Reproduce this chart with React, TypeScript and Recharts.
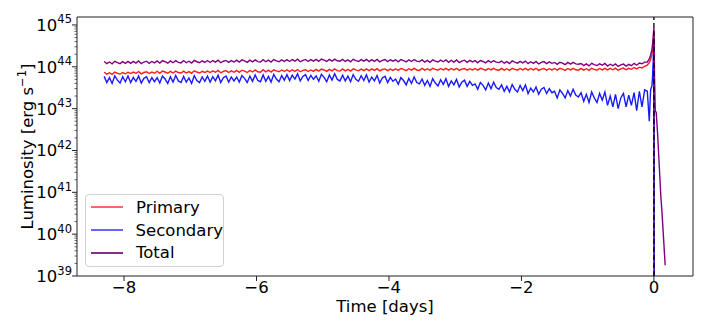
import React from 'react';
import { LineChart, Line, XAxis, YAxis, ReferenceLine, ReferenceArea, Legend } from 'recharts';

// time in days, values in units of 1e43 erg/s
const timeMain = [
  -8.30, -8.26, -8.22, -8.18, -8.14, -8.10, -8.06, -8.02, -7.98, -7.94,
  -7.90, -7.86, -7.82, -7.78, -7.74, -7.70, -7.66, -7.62, -7.58, -7.54,
  -7.50, -7.46, -7.42, -7.38, -7.34, -7.30, -7.26, -7.22, -7.18, -7.14,
  -7.10, -7.06, -7.02, -6.98, -6.94, -6.90, -6.86, -6.82, -6.78, -6.74,
  -6.70, -6.66, -6.62, -6.58, -6.54, -6.50, -6.46, -6.42, -6.38, -6.34,
  -6.30, -6.26, -6.22, -6.18, -6.14, -6.10, -6.06, -6.02, -5.98, -5.94,
  -5.90, -5.86, -5.82, -5.78, -5.74, -5.70, -5.66, -5.62, -5.58, -5.54,
  -5.50, -5.46, -5.42, -5.38, -5.34, -5.30, -5.26, -5.22, -5.18, -5.14,
  -5.10, -5.06, -5.02, -4.98, -4.94, -4.90, -4.86, -4.82, -4.78, -4.74,
  -4.70, -4.66, -4.62, -4.58, -4.54, -4.50, -4.46, -4.42, -4.38, -4.34,
  -4.30, -4.26, -4.22, -4.18, -4.14, -4.10, -4.06, -4.02, -3.98, -3.94,
  -3.90, -3.86, -3.82, -3.78, -3.74, -3.70, -3.66, -3.62, -3.58, -3.54,
  -3.50, -3.46, -3.42, -3.38, -3.34, -3.30, -3.26, -3.22, -3.18, -3.14,
  -3.10, -3.06, -3.02, -2.98, -2.94, -2.90, -2.86, -2.82, -2.78, -2.74,
  -2.70, -2.66, -2.62, -2.58, -2.54, -2.50, -2.46, -2.42, -2.38, -2.34,
  -2.30, -2.26, -2.22, -2.18, -2.14, -2.10, -2.06, -2.02, -1.98, -1.94,
  -1.90, -1.86, -1.82, -1.78, -1.74, -1.70, -1.66, -1.62, -1.58, -1.54,
  -1.50, -1.46, -1.42, -1.38, -1.34, -1.30, -1.26, -1.22, -1.18, -1.14,
  -1.10, -1.06, -1.02, -0.98, -0.94, -0.90, -0.86, -0.82, -0.78, -0.74,
  -0.70, -0.66, -0.62, -0.58, -0.54, -0.50, -0.46, -0.42, -0.38, -0.34,
  -0.30, -0.26, -0.22, -0.18, -0.14,
];
const timeTail = [-0.10, -0.07, -0.05, -0.03, -0.02, -0.01, 0.0, 0.003, 0.01, 0.02, 0.035, 0.055, 0.105, 0.12, 0.17];

const primaryMain = [
  7.4, 6.7, 7.2, 6.6, 7.5, 7.0, 6.7, 7.3, 6.8, 7.4,
  6.9, 7.5, 7.0, 7.7, 6.8, 7.3, 7.6, 6.9, 7.5, 7.0,
  7.8, 7.0, 7.9, 7.5, 7.0, 7.8, 7.1, 7.9, 7.3, 7.1,
  7.9, 7.1, 7.7, 7.0, 8.0, 7.5, 7.1, 7.8, 7.3, 7.9,
  7.3, 8.0, 7.4, 8.2, 7.2, 7.8, 8.1, 7.3, 8.0, 7.4,
  8.2, 7.4, 8.3, 7.9, 7.3, 8.2, 7.5, 8.4, 7.6, 7.4,
  8.5, 7.6, 8.3, 7.5, 8.5, 8.0, 7.6, 8.4, 7.7, 8.5,
  7.7, 8.5, 7.8, 8.6, 7.6, 8.2, 8.5, 7.7, 8.4, 7.8,
  8.7, 7.9, 8.8, 8.4, 7.8, 8.7, 8.0, 8.9, 8.1, 7.9,
  8.9, 8.0, 8.7, 7.9, 8.9, 8.4, 8.0, 8.8, 8.1, 8.9,
  8.1, 8.9, 8.2, 9.0, 8.0, 8.6, 8.9, 8.1, 8.8, 8.2,
  9.0, 8.2, 9.1, 8.7, 8.1, 9.0, 8.3, 9.2, 8.4, 8.2,
  9.2, 8.3, 9.0, 8.2, 9.2, 8.7, 8.3, 9.1, 8.4, 9.2,
  8.3, 9.1, 8.4, 9.2, 8.2, 8.8, 9.1, 8.3, 9.0, 8.4,
  9.1, 8.3, 9.2, 8.8, 8.2, 9.1, 8.4, 9.2, 8.5, 8.3,
  9.2, 8.3, 9.0, 8.2, 9.2, 8.7, 8.3, 9.1, 8.4, 9.2,
  8.3, 9.1, 8.4, 9.2, 8.2, 8.8, 9.1, 8.3, 9.0, 8.4,
  9.1, 8.3, 9.2, 8.8, 8.2, 9.1, 8.4, 9.2, 8.5, 8.3,
  9.2, 8.3, 9.0, 8.2, 9.2, 8.7, 8.3, 9.1, 8.4, 9.2,
  8.4, 9.2, 8.5, 9.3, 8.3, 8.9, 9.3, 8.5, 9.2, 8.7,
  9.6, 8.9, 9.8, 9.4, 10.3,
];
const primaryTail = [11, 12.5, 15, 20, 27, 40, 55, 0.0001, null, null, null, null, null, null, null];

const secondaryMain = [
  5.9, 4.2, 5.5, 4.0, 6.1, 4.8, 4.1, 5.8, 4.4, 6.0,
  4.2, 5.6, 4.5, 6.0, 4.1, 5.3, 5.8, 4.2, 5.5, 4.4,
  5.5, 4.1, 6.0, 5.1, 4.0, 5.8, 4.3, 6.2, 4.6, 4.2,
  5.9, 4.3, 5.4, 4.0, 6.1, 4.7, 4.2, 5.7, 4.5, 6.0,
  4.3, 5.8, 4.6, 6.3, 4.2, 5.5, 6.0, 4.3, 5.7, 4.6,
  5.7, 4.3, 6.2, 5.3, 4.2, 6.0, 4.5, 6.4, 4.7, 4.4,
  6.4, 4.5, 5.9, 4.3, 6.6, 5.1, 4.4, 6.2, 4.8, 6.5,
  4.7, 6.3, 5.1, 6.8, 4.6, 5.9, 6.5, 4.7, 6.2, 5.0,
  6.1, 4.5, 6.6, 5.6, 4.4, 6.4, 4.8, 6.8, 5.0, 4.6,
  6.3, 4.6, 6.0, 4.4, 6.5, 5.0, 4.5, 6.1, 4.7, 6.4,
  4.3, 5.7, 4.6, 6.2, 4.1, 5.4, 5.9, 4.2, 5.6, 4.5,
  5.1, 3.8, 5.5, 4.7, 3.7, 5.3, 4.0, 5.7, 4.2, 3.9,
  5.1, 3.6, 4.7, 3.4, 5.2, 4.1, 3.5, 4.9, 3.8, 5.2,
  3.4, 4.6, 3.7, 5.0, 3.3, 4.3, 4.8, 3.4, 4.5, 3.6,
  3.9, 2.9, 4.2, 3.6, 2.8, 4.1, 3.0, 4.3, 3.2, 2.9,
  3.7, 2.6, 3.4, 2.5, 3.8, 2.9, 2.5, 3.6, 2.7, 3.7,
  2.3, 3.1, 2.5, 3.3, 2.2, 2.9, 3.2, 2.3, 3.0, 2.4,
  2.6, 1.8, 2.8, 2.3, 1.8, 2.7, 2.0, 2.9, 2.1, 1.9,
  2.4, 1.5, 2.2, 1.4, 2.5, 1.8, 1.4, 2.3, 1.6, 2.5,
  1.2, 2.0, 1.1, 2.2, 1.0, 1.8, 2.3, 1.1, 2.1, 1.2,
  2.4, 0.9, 2.6, 1.1, 2.8,
];
const secondaryTail = [2.6, 0.5, 2.8, 3.5, 6, 15, 45, 0.0001, null, null, null, null, null, null, null];

const totalMain = [
  13.4, 11.9, 13.0, 11.8, 13.5, 12.6, 11.9, 13.3, 12.1, 13.4,
  12.1, 13.5, 12.3, 13.8, 11.9, 13.0, 13.6, 12.1, 13.4, 12.4,
  13.8, 12.3, 14.0, 13.2, 12.2, 13.8, 12.5, 14.0, 12.7, 12.4,
  14.1, 12.5, 13.6, 12.3, 14.2, 13.2, 12.5, 13.9, 12.7, 14.1,
  12.7, 14.1, 12.9, 14.4, 12.5, 13.6, 14.2, 12.7, 14.0, 13.0,
  14.4, 12.9, 14.6, 13.8, 12.8, 14.4, 13.1, 14.6, 13.3, 13.0,
  14.8, 13.2, 14.4, 13.0, 14.9, 13.9, 13.2, 14.6, 13.4, 14.8,
  13.4, 14.9, 13.6, 15.2, 13.2, 14.3, 15.0, 13.4, 14.8, 13.7,
  15.0, 13.5, 15.3, 14.4, 13.4, 15.0, 13.7, 15.2, 13.9, 13.6,
  15.0, 13.4, 14.6, 13.2, 15.1, 14.1, 13.4, 14.8, 13.6, 15.0,
  13.3, 14.8, 13.5, 15.0, 13.1, 14.2, 14.9, 13.3, 14.7, 13.6,
  14.7, 13.2, 14.9, 14.1, 13.1, 14.7, 13.4, 14.9, 13.6, 13.3,
  14.6, 13.0, 14.2, 12.8, 14.7, 13.7, 13.0, 14.4, 13.2, 14.6,
  12.8, 14.3, 13.0, 14.5, 12.6, 13.7, 14.4, 12.8, 14.2, 13.1,
  14.0, 12.5, 14.1, 13.4, 12.4, 14.0, 12.7, 14.1, 12.9, 12.6,
  13.7, 12.2, 13.3, 12.0, 13.8, 12.9, 12.2, 13.5, 12.4, 13.7,
  11.9, 13.2, 12.1, 13.4, 11.7, 12.7, 13.3, 11.9, 13.1, 12.1,
  12.7, 11.4, 12.8, 12.2, 11.3, 12.7, 11.6, 12.8, 11.7, 11.5,
  12.0, 10.7, 11.7, 10.5, 12.1, 11.3, 10.7, 11.8, 10.9, 12.0,
  10.4, 11.5, 10.6, 11.7, 10.2, 11.1, 11.6, 10.4, 11.4, 10.6,
  12.1, 10.9, 12.3, 11.8, 12.9,
];
const totalTail = [13, 15.5, 19, 26, 36, 55, 85, 40, 5, 0.9, 0.8, 0.26, 0.0076, 0.0037, 0.00018];

const xTicks = [-8, -6, -4, -2, 0];
const yExponents = [39, 40, 41, 42, 43, 44, 45];
const yMinorSteps = [2, 3, 4, 5, 6, 7, 8, 9];

const UNIT = 1e43;
const FONT = 'DejaVu Sans, sans-serif';
const AXIS = '#222';

const time = [...timeMain, ...timeTail];
const primary = [...primaryMain, ...primaryTail];
const secondary = [...secondaryMain, ...secondaryTail];
const total = [...totalMain, ...totalTail];

const data = time.map((t, i) => ({
  t,
  primary: primary[i] == null ? null : (primary[i] as number) * UNIT,
  secondary: secondary[i] == null ? null : (secondary[i] as number) * UNIT,
  total: total[i] * UNIT,
}));

const yTicks: number[] = [];
yExponents.forEach((e) => {
  yTicks.push(Math.pow(10, e));
  if (e < 45) yMinorSteps.forEach((m) => yTicks.push(m * Math.pow(10, e)));
});

const PLOT_LEFT = 77;
const PLOT_BOTTOM = 276;

const YTick = ({ y, payload }: any) => {
  const v = payload.value;
  const e = Math.round(Math.log10(v));
  const major = Math.abs(v - Math.pow(10, e)) / v < 1e-6;
  return (
    <g>
      <line x1={PLOT_LEFT} x2={major ? 72 : 74.5} y1={y} y2={y} stroke={AXIS} strokeWidth={major ? 1 : 0.7} />
      {major && (
        <text x={72} y={y + 6} textAnchor="end" fontFamily={FONT} fontSize={16.5} fill="#000">
          10<tspan dy={-7.5} fontSize={11.5}>{e}</tspan>
        </text>
      )}
    </g>
  );
};

const XTick = ({ x, payload }: any) => {
  const v = payload.value;
  const label = v < 0 ? '\u2212' + Math.abs(v) : String(v);
  return (
    <g>
      <line x1={x} x2={x} y1={PLOT_BOTTOM} y2={PLOT_BOTTOM + 5} stroke={AXIS} />
      <text x={x} y={293} textAnchor="middle" fontFamily={FONT} fontSize={16.5} fill="#000">
        {label}
      </text>
    </g>
  );
};

const legendItems = [
  { name: 'Primary', color: '#ff6666' },
  { name: 'Secondary', color: '#6666ff' },
  { name: 'Total', color: '#8c2a8c' },
];

const LegendBox = () => (
  <div
    style={{
      width: 139,
      height: 73,
      border: '1px solid #d0d0d0',
      borderRadius: 4,
      background: 'rgba(255,255,255,0.8)',
      fontFamily: FONT,
      fontSize: 16.5,
      paddingTop: 1,
      boxSizing: 'border-box',
    }}
  >
    {legendItems.map((it) => (
      <div key={it.name} style={{ display: 'flex', alignItems: 'center', height: 22.7 }}>
        <div style={{ width: 32, height: 2, background: it.color, marginLeft: 5, marginRight: 13 }} />
        <span style={{ color: '#000' }}>{it.name}</span>
      </div>
    ))}
  </div>
);

export default function App() {
  return (
    <div style={{ position: 'absolute', left: 0, top: 0, width: 710, height: 332, background: '#fff' }}>
      <LineChart width={710} height={332} data={data} margin={{ top: 17, right: 17, bottom: 0, left: 0 }}>
        <XAxis
          dataKey="t"
          type="number"
          domain={[-8.71, 0.59]}
          ticks={xTicks}
          allowDataOverflow
          height={56}
          axisLine={false}
          tickLine={false}
          tick={<XTick />}
          label={{
            content: () => (
              <text x={385} y={312} textAnchor="middle" fontFamily={FONT} fontSize={16.5} fill="#000">
                Time [days]
              </text>
            ),
          }}
        />
        <YAxis
          scale="log"
          type="number"
          domain={[1e39, Math.pow(10, 45.19)]}
          ticks={yTicks}
          interval={0}
          allowDataOverflow
          width={77}
          axisLine={false}
          tickLine={false}
          tick={<YTick />}
          label={{
            content: () => (
              <text
                x={33}
                y={146.5}
                transform="rotate(-90, 33, 146.5)"
                textAnchor="middle"
                fontFamily={FONT}
                fontSize={16.5}
                fill="#000"
              >
                Luminosity [erg s<tspan dy={-7} fontSize={11.5}>{'\u22121'}</tspan>
                <tspan dy={7}>]</tspan>
              </text>
            ),
          }}
        />
        <ReferenceArea
          x1={-8.71}
          x2={0.59}
          y1={1e39}
          y2={Math.pow(10, 45.19)}
          fill="none"
          stroke={AXIS}
          strokeWidth={1}
          fillOpacity={0}
        />
        <Line dataKey="primary" stroke="#ff0000" strokeWidth={1.4} dot={false} isAnimationActive={false} strokeOpacity={0.9} />
        <Line dataKey="secondary" stroke="#0000ff" strokeWidth={1.4} dot={false} isAnimationActive={false} strokeOpacity={0.9} />
        <Line dataKey="total" stroke="#800080" strokeWidth={1.4} dot={false} isAnimationActive={false} />
        <ReferenceLine x={0} stroke="#000" strokeWidth={1.3} strokeDasharray="5 3" />
        <Legend
          layout="vertical"
          align="center"
          verticalAlign="middle"
          content={<LegendBox />}
          wrapperStyle={{ position: 'absolute', left: 85, top: 194, width: 139, height: 73 }}
        />
      </LineChart>
    </div>
  );
}
